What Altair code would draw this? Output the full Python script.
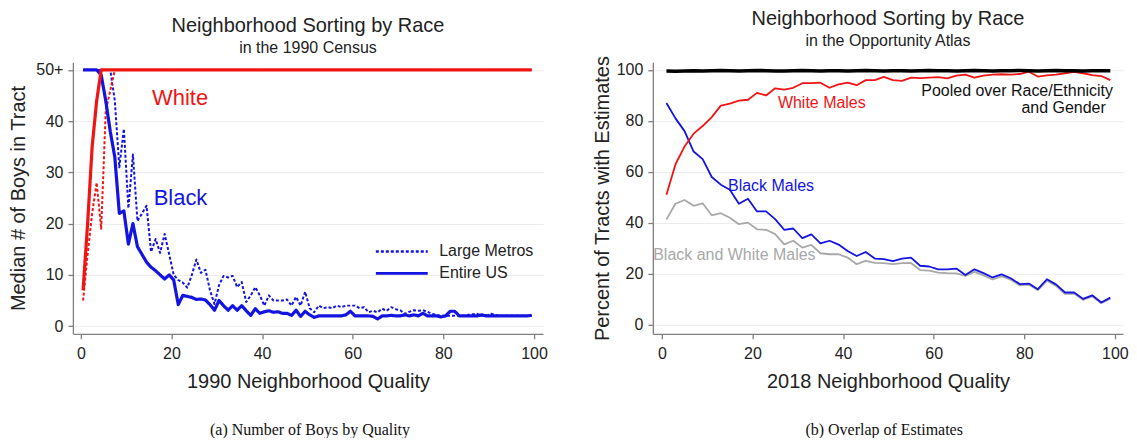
import altair as alt
import pandas as pd

FONT = "Liberation Sans"
SERIF = "Liberation Serif"
RED = "#f01414"
BLUE = "#1414e0"
GRAY = "#a8a8a8"
INK = "#222222"

# ---------------- Left panel data (1990 Census) ----------------
quality_left = [i + 0.5 for i in range(100)]

white_us = [7, 20, 35, 44, 50] + [50] * 95

white_metro = [5, 14, 22, 28, 19, 42, 46, 50] + [50] * 92

black_us = [
    50, 50, 50, 50, 49, 44, 38, 33, 22, 22.5,
    16, 20, 15.5, 14, 12.5, 11.5, 10.8, 10, 9.2, 10,
    9, 4.2, 6, 5.8, 5.6, 5.2, 5.3, 5.1, 4.2, 3.1,
    5, 4, 3.1, 4, 3.1, 4, 3, 2.1, 3.4, 2.5,
    2.8, 3, 2.7, 2.8, 2.5, 2.5, 2.1, 3.1, 1.9, 2.9,
    2.2, 1.7, 2, 2, 2, 2, 2, 2, 2.2, 2.9,
    2, 2, 2, 2, 1.9, 1.4, 2, 2, 2.1, 2,
    2, 2.2, 2, 2.2, 2, 2.5, 2, 2, 2, 1.8,
    2, 2.9, 2.9, 2, 2, 2, 2, 2, 2.2, 2,
    2, 2, 2, 2, 2, 2, 2, 2, 2, 2.1,
]

black_metro = [
    50, 50, 50, 50, 50, 50, 50, 44, 31, 38.5,
    23, 33.5, 20.5, 22, 23.5, 14.5, 17, 14.3, 18, 14,
    10, 9, 8.5, 7.5, 10, 13, 10.4, 11, 7, 4.3,
    8, 9.8, 9.5, 9.8, 7.6, 8.6, 4.7, 6, 7.6, 6,
    4, 6, 5, 5, 5, 5.2, 4, 5.7, 4, 6.7,
    3.5, 2.7, 4, 3.5, 3.7, 3.5, 4, 3.7, 4, 4,
    4, 3.5, 3.7, 2.7, 3, 2.7, 3.4, 3, 3.7, 3.3,
    3.1, 2.4, 2.8, 3.1, 3, 3.1, 2.8, 2.4, 2.2, 2,
    2, 2, 2, 2, 2, 2.2, 2.3, 2.4, 2, 2,
    2.4, 2.2, 2, 2, 2, 2, 2, 2, 2, 2,
]

left_x_ticks = [0, 20, 40, 60, 80, 100]
left_y_ticks = [0, 10, 20, 30, 40, 50]
left_labels = ["White", "Black"]
left_label_x = [21.9, 22.0]
left_label_y = [44.6, 25.0]
left_label_colors = [RED, BLUE]
metro_types = ["Large Metros", "Entire US"]

# ---------------- Right panel data (Opportunity Atlas) ----------------
quality_right = list(range(1, 100, 2))

pooled = [
    99.6, 99.5, 99.6, 99.7, 99.6, 99.7, 99.8, 99.7, 99.6, 99.7,
    99.8, 99.7, 99.6, 99.6, 99.7, 99.8, 99.7, 99.6, 99.7, 99.7,
    99.6, 99.7, 99.8, 99.7, 99.6, 99.7, 99.7, 99.6, 99.7, 99.8,
    99.7, 99.7, 99.6, 99.7, 99.8, 99.7, 99.6, 99.7, 99.7, 99.8,
    99.7, 99.6, 99.7, 99.8, 99.7, 99.7, 99.6, 99.7, 99.7, 99.7,
]

white_males = [
    51, 63, 70, 75, 78, 81.5, 86, 86.8, 88, 88.3,
    91, 90, 92.8, 92.3, 93, 94.8, 94.8, 95, 93, 94.3,
    95, 94, 96, 96, 97.3, 96, 95.7, 97, 96.8, 97,
    97.2, 96.7, 97.8, 98.2, 97, 97.8, 98.2, 98.3, 98.2, 98.4,
    99.3, 97.4, 97.9, 98.2, 98.7, 99.2, 98.7, 98, 97.6, 96,
]

black_males = [
    87, 81, 76, 68, 65, 58, 55, 53, 47.5, 49.5,
    44.5, 44.5, 41.5, 37.3, 37.8, 34, 35.5, 32, 33, 31.5,
    29, 27, 28.6, 26, 25.8, 25, 26, 26.4, 23.2, 22.9,
    21.8, 21.8, 22.1, 19.6, 21.8, 20.3, 18.6, 19.8, 18.3, 16,
    16.2, 14, 17.9, 15.9, 12.7, 12.7, 10.2, 11.6, 8.8, 10.7,
]

black_white_males = [
    41.4, 47.5, 49, 46.7, 47.7, 43, 43.8, 42, 39.5, 40.1,
    37.5, 37.3, 35.6, 31.6, 33, 30.3, 31.4, 28.1, 27.7, 27.7,
    26.4, 23.8, 25.1, 24.3, 24.2, 23.8, 24.2, 24.3, 21.5, 21.3,
    20.5, 20.3, 20.2, 19.2, 20.8, 19.4, 17.8, 19, 17.7, 15.5,
    15.8, 13.6, 17.3, 15.3, 12.2, 12.3, 9.8, 11.2, 8.5, 10.3,
]

right_x_ticks = [0, 20, 40, 60, 80, 100]
right_y_ticks = [0, 20, 40, 60, 80, 100]

center_labels = ["White Males", "Black Males", "Black and White Males"]
center_label_x = [35.3, 24.1, 16.0]
center_label_y = [86.9, 54.4, 27.4]
center_label_colors = [RED, BLUE, GRAY]

pooled_labels = ["Pooled over Race/Ethnicity", "and Gender"]
pooled_label_x = [99.6, 98.0]
pooled_label_y = [91.6, 84.9]

# ---------------- Build left panel ----------------
def series_df(xs, ys, t):
    return pd.DataFrame({"x": xs, "y": ys, "type": t})

dash = alt.StrokeDash(
    "type:N",
    scale=alt.Scale(domain=metro_types, range=[[3, 2], [1, 0]]),
    legend=alt.Legend(
        orient="none", legendX=318, legendY=178, title=None,
        symbolType="M-2.6,0H2.6", symbolSize=400, symbolStrokeWidth=2.6,
        symbolStrokeColor=BLUE, symbolFillColor="transparent",
        labelFontSize=16, labelFont=FONT,
        labelColor=INK, labelOffset=26, rowPadding=2, padding=0,
    ),
)

lx = alt.X("x:Q", scale=alt.Scale(domain=[-1.75, 102], nice=False, zero=False),
           axis=alt.Axis(values=left_x_ticks, grid=False, labelPadding=7,
                         title="1990 Neighborhood Quality", titlePadding=10))
ly = alt.Y("y:Q", scale=alt.Scale(domain=[-1.5, 51.5], nice=False, zero=False),
           axis=alt.Axis(values=left_y_ticks, grid=True,
                         labelExpr="datum.value == 50 ? '50+' : datum.label",
                         title="Median # of Boys in Tract", titlePadding=7))

def left_line(xs, ys, t, color, width):
    return alt.Chart(series_df(xs, ys, t)).mark_line(
        color=color, strokeWidth=width, strokeJoin="round"
    ).encode(x=lx, y=ly, strokeDash=dash)

l_bm = left_line(quality_left, black_metro, "Large Metros", BLUE, 2)
l_wm = left_line(quality_left, white_metro, "Large Metros", RED, 2)
l_bu = left_line(quality_left, black_us, "Entire US", BLUE, 3.2)
l_wu = left_line(quality_left, white_us, "Entire US", RED, 3.2)

def label_layer(text, x, y, color, size, align="center"):
    return alt.Chart(pd.DataFrame({"x": [x], "y": [y], "label": [text]})).mark_text(
        font=FONT, fontSize=size, color=color, align=align
    ).encode(x="x:Q", y="y:Q", text="label:N")

left_texts = [label_layer(t, x, y, c, 22) for t, x, y, c in
              zip(left_labels, left_label_x, left_label_y, left_label_colors)]

panel_title = dict(
    fontSize=20, subtitleFontSize=16, font=FONT, subtitleFont=FONT,
    fontWeight="normal", color=INK, subtitleColor=INK,
    subtitlePadding=4, offset=6, anchor="middle",
)

left = alt.layer(l_bm, l_wm, l_bu, l_wu, *left_texts).properties(
    width=471, height=272,
    title=alt.TitleParams(text="Neighborhood Sorting by Race",
                          subtitle="in the 1990 Census", **panel_title),
)

left_box = alt.vconcat(left, title=alt.TitleParams(
    "(a) Number of Boys by Quality", orient="bottom", font=SERIF, fontSize=16,
    fontWeight="normal", color="#111111", anchor="middle", dx=32, offset=30,
))

# ---------------- Build right panel ----------------
rx = alt.X("x:Q", scale=alt.Scale(domain=[-2, 101.8], nice=False, zero=False),
           axis=alt.Axis(values=right_x_ticks, grid=False, labelPadding=7,
                         title="2018 Neighborhood Quality", titlePadding=10))
ry = alt.Y("y:Q", scale=alt.Scale(domain=[-3.5, 103], nice=False, zero=False),
           axis=alt.Axis(values=right_y_ticks, grid=True,
                         title="Percent of Tracts with Estimates", titlePadding=4))

def right_line(ys, color, width):
    return alt.Chart(pd.DataFrame({"x": quality_right, "y": ys})).mark_line(
        color=color, strokeWidth=width, strokeJoin="round"
    ).encode(x=rx, y=ry)

r_bw = right_line(black_white_males, GRAY, 1.8)
r_b = right_line(black_males, BLUE, 1.8)
r_w = right_line(white_males, RED, 1.8)
r_p = right_line(pooled, "#000000", 3.6)

right_texts = [label_layer(t, x, y, c, 16) for t, x, y, c in
               zip(center_labels, center_label_x, center_label_y, center_label_colors)]
right_texts += [label_layer(t, x, y, "#111111", 16, align="right") for t, x, y in
                zip(pooled_labels, pooled_label_x, pooled_label_y)]

right = alt.layer(r_bw, r_b, r_w, r_p, *right_texts).properties(
    width=471, height=272,
    title=alt.TitleParams(text="Neighborhood Sorting by Race",
                          subtitle="in the Opportunity Atlas", **panel_title),
)

right_box = alt.vconcat(right, title=alt.TitleParams(
    "(b) Overlap of Estimates", orient="bottom", font=SERIF, fontSize=16,
    fontWeight="normal", color="#111111", anchor="middle", dx=24, offset=30,
))

chart = alt.hconcat(left_box, right_box, spacing=44).properties(
    padding={"left": 0, "top": 0, "right": 0, "bottom": 0},
).configure_view(stroke=None).configure_axis(
    labelFont=FONT, titleFont=FONT, labelFontSize=16, titleFontSize=20,
    titleFontWeight="normal", labelColor=INK, titleColor=INK,
    domainColor="#808080", tickColor="#808080", domainWidth=1.3, tickWidth=1.3,
    tickSize=5, labelPadding=5, gridColor="#ececec", gridWidth=1,
).configure_title(font=FONT)

chart.save("out.html", embed_options={"renderer": "svg", "actions": False})
